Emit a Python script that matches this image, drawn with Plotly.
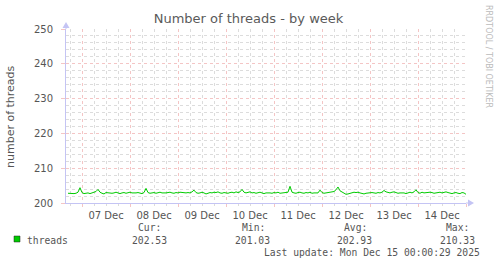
import pandas as pd
import plotly.graph_objects as go

# ---- data ----
start_time = "2025-12-06 17:00"
n_points = 200
threads = [
    202.8, 202.7, 202.6, 202.7, 202.8, 203.1, 204.4, 203.0, 202.7, 202.8, 202.9, 202.7, 202.9, 203.0, 203.3, 203.9, 203.1, 202.8, 202.6, 203.0,
    202.9, 203.0, 202.8, 202.9, 203.1, 202.9, 202.7, 202.9, 203.0, 202.8, 202.9, 203.1, 202.9, 202.8, 202.9, 203.0, 202.9, 202.7, 203.0, 204.2,
    203.0, 202.8, 202.9, 203.0, 202.8, 202.9, 203.1, 202.9, 202.8, 202.9, 203.0, 203.1, 202.9, 202.8, 203.0, 202.9, 203.1, 203.0, 202.8, 202.9,
    203.0, 202.9, 203.2, 203.7, 203.0, 202.8, 202.9, 203.1, 202.9, 202.6, 202.8, 203.0, 202.9, 203.1, 203.0, 203.2, 202.9, 202.8, 203.0, 202.9,
    202.8, 203.0, 203.1, 202.9, 203.2, 203.0, 203.2, 203.9, 203.1, 202.9, 203.0, 203.2, 202.9, 203.0, 202.8, 202.9, 203.1, 202.9, 202.7, 202.9,
    203.0, 202.9, 202.8, 203.0, 202.9, 203.1, 202.8, 202.9, 203.0, 202.9, 203.1, 204.8, 203.1, 202.9, 202.8, 203.0, 203.1, 202.9, 202.8, 203.0,
    202.9, 203.1, 202.8, 202.9, 203.0, 202.9, 203.7, 203.0, 202.8, 202.9, 203.0, 202.9, 203.1, 203.3, 203.8, 204.6, 203.5, 203.2, 202.7, 202.5,
    202.6, 202.8, 203.0, 203.1, 203.0, 203.1, 202.9, 202.7, 202.6, 202.8, 202.9, 202.8, 203.0, 202.9, 202.8, 203.0, 202.9, 203.1, 203.6, 203.2,
    203.0, 202.9, 203.1, 203.2, 203.0, 202.8, 202.9, 203.0, 202.9, 202.7, 203.0, 203.1, 202.9, 203.2, 203.8, 203.0, 202.8, 203.1, 202.9, 203.0,
    202.9, 203.1, 203.0, 202.8, 202.9, 203.0, 203.1, 202.9, 203.0, 203.2, 203.0, 202.8, 202.7, 202.9, 203.0, 202.8, 202.7, 203.0, 202.9, 202.5,
]
series_name = "threads"
stat_labels = ["Cur:", "Min:", "Avg:", "Max:"]
stat_values = ["202.53", "201.03", "202.93", "210.33"]
x_range = ["2025-12-06 16:00", "2025-12-15 00:00"]
y_range = [200, 250]
title_text = "Number of threads - by week"
y_title = "number of threads"
last_update = "Last update: Mon Dec 15 00:00:29 2025"
watermark = "RRDTOOL / TOBI OETIKER"

times = pd.date_range(start_time, periods=n_points, freq="h")

# ---- geometry (pixels) ----
W, H = 497, 264
L, R, T, B = 66, 31, 29, 61
PW, PH = W - L - R, H - T - B


def px(x):
    return (x - L) / PW


def py(y):
    return (H - B - y) / PH


AXIS = "#C4C4F4"
MAJOR = "rgba(235,150,150,0.55)"
MINOR = "rgba(205,205,205,0.7)"
TXT = "#555555"

fig = go.Figure()
fig.add_trace(go.Scatter(
    x=times, y=threads, mode="lines", name=series_name,
    line=dict(color="#00CC00", width=1), showlegend=False,
))

fig.update_layout(
    width=W, height=H,
    margin=dict(l=L, r=R, t=T, b=B),
    paper_bgcolor="white", plot_bgcolor="white",
    font=dict(family="DejaVu Sans", size=10, color=TXT),
    title=dict(text=title_text, x=0.5, xanchor="center", y=1 - 18 / H, yanchor="middle",
               font=dict(family="DejaVu Sans", size=13, color="#5a5a5a")),
)

fig.update_xaxes(
    type="date", range=x_range,
    tick0="2025-12-06 00:00", dtick=86400000,
    ticklabelmode="period", tickformat="%d %b",
    showgrid=True, gridcolor=MAJOR, griddash="dot", gridwidth=1,
    ticks="outside", ticklen=3, tickcolor=MAJOR,
    minor=dict(dtick=6 * 3600000, tick0="2025-12-06 00:00", showgrid=True,
               gridcolor=MINOR, griddash="dot", ticks="outside", ticklen=2, tickcolor=MINOR),
    showline=True, linecolor=AXIS, linewidth=1,
    zeroline=False, fixedrange=True,
    tickfont=dict(size=10, color=TXT),
)
fig.update_yaxes(
    range=y_range, dtick=10, tick0=200,
    showgrid=True, gridcolor=MAJOR, griddash="dot", gridwidth=1,
    ticks="outside", ticklen=4, tickcolor=MAJOR, ticklabelstandoff=6,
    minor=dict(dtick=2, showgrid=True, gridcolor=MINOR, griddash="dot"),
    showline=True, linecolor=AXIS, linewidth=1,
    zeroline=False,
    tickfont=dict(size=10, color=TXT),
)

# axis extensions with arrows
shapes = [
    dict(type="line", xref="paper", yref="paper", x0=px(466), x1=px(469), y0=py(203), y1=py(203),
         line=dict(color=AXIS, width=1)),
    dict(type="path", xref="paper", yref="paper",
         path=f"M {px(468)} {py(199.5)} L {px(474)} {py(203)} L {px(468)} {py(206.5)} Z",
         fillcolor=AXIS, line=dict(color=AXIS, width=0)),
    dict(type="line", xref="paper", yref="paper", x0=px(66), x1=px(66), y0=py(29), y1=py(26),
         line=dict(color=AXIS, width=1)),
    dict(type="path", xref="paper", yref="paper",
         path=f"M {px(62.5)} {py(28)} L {px(66)} {py(22)} L {px(69.5)} {py(28)} Z",
         fillcolor=AXIS, line=dict(color=AXIS, width=0)),
    # legend swatch
    dict(type="rect", xref="paper", yref="paper", x0=px(14), x1=px(20), y0=py(242), y1=py(236),
         fillcolor="#00CC00", line=dict(color="#222222", width=0.5)),
]
fig.update_layout(shapes=shapes)

MONO = dict(family="DejaVu Sans Mono", size=9.7, color=TXT)
ann = [
    dict(text=y_title, x=px(10), y=py(116), textangle=-90, xanchor="center", yanchor="middle",
         font=dict(family="DejaVu Sans", size=11, color=TXT)),
    dict(text=watermark, x=px(489), y=py(56), textangle=90, xanchor="center", yanchor="middle",
         font=dict(family="DejaVu Sans", size=8, color="#BBBBBB")),
    dict(text=series_name, x=px(25), y=py(240), xanchor="left", yanchor="middle", font=MONO),
    dict(text=last_update, x=px(482), y=py(252), xanchor="right", yanchor="middle", font=MONO),
]
label_right = [163, 267, 369, 471]
value_right = [169, 272, 374, 477]
for lab, val, lr, vr in zip(stat_labels, stat_values, label_right, value_right):
    ann.append(dict(text=lab, x=px(lr), y=py(227), xanchor="right", yanchor="middle", font=MONO))
    ann.append(dict(text=val, x=px(vr), y=py(240), xanchor="right", yanchor="middle", font=MONO))
for a in ann:
    a.update(xref="paper", yref="paper", showarrow=False)
fig.update_layout(annotations=ann)

fig.write_html("out.html", config={"displayModeBar": False})
